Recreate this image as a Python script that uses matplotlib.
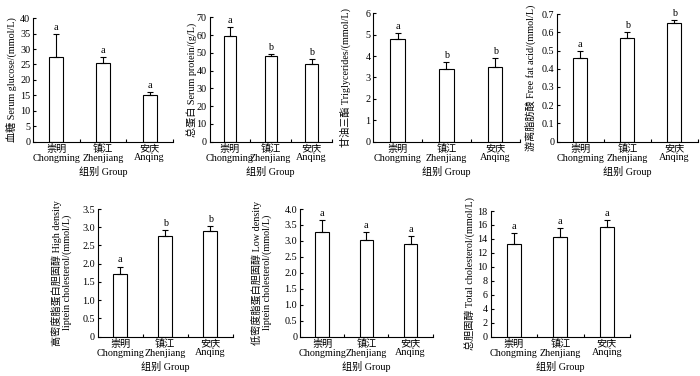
import matplotlib
matplotlib.use('Agg')
import matplotlib.pyplot as plt
from matplotlib.ticker import FixedLocator, FuncFormatter
import numpy as np

plt.rcParams['font.family'] = ['Liberation Serif', 'Noto Sans CJK SC']

groups = ['崇明\nChongming', '镇江\nZhenjiang', '安庆\nAnqing']
xlabel_text = '组别 Group'

glucose_mean = [27.5, 25.5, 15.0]
glucose_err = [7.5, 1.8, 1.1]
glucose_sig = ['a', 'a', 'a']

protein_mean = [59.5, 48.0, 43.8]
protein_err = [4.8, 1.5, 2.7]
protein_sig = ['a', 'b', 'b']

tg_mean = [4.80, 3.40, 3.47]
tg_err = [0.28, 0.30, 0.45]
tg_sig = ['a', 'b', 'b']

ffa_mean = [0.46, 0.57, 0.65]
ffa_err = [0.04, 0.03, 0.02]
ffa_sig = ['a', 'b', 'b']

hdl_mean = [1.72, 2.77, 2.90]
hdl_err = [0.20, 0.15, 0.12]
hdl_sig = ['a', 'b', 'b']

ldl_mean = [3.27, 3.02, 2.89]
ldl_err = [0.37, 0.27, 0.27]
ldl_sig = ['a', 'a', 'a']

tc_mean = [13.3, 14.2, 15.7]
tc_err = [1.6, 1.3, 1.0]
tc_sig = ['a', 'a', 'a']

W, H = 700, 376
fig = plt.figure(figsize=(W / 100, H / 100), dpi=100)

# (left, right, top, bottom) in pixels, ymax, ystep, decimals, ylabel, ylabel right-edge px
panels = [
    (33, 173, 18.3, 141.5, 40, 5, 0, '血糖 Serum glucose/(mmol/L)', 17.5,
     glucose_mean, glucose_err, glucose_sig),
    (209.5, 332, 17.3, 141.5, 70, 10, 0, '总蛋白 Serum protein/(g/L)', 198,
     protein_mean, protein_err, protein_sig),
    (373.3, 519.5, 13.3, 141.5, 6, 1, 0, '甘油三酯 Triglycerides/(mmol/L)', 351,
     tg_mean, tg_err, tg_sig),
    (557, 697.5, 14.3, 141.5, 0.7, 0.1, 1, '游离脂肪酸 Free fat acid/(mmol/L)', 536,
     ffa_mean, ffa_err, ffa_sig),
    (97.7, 232.7, 209, 336.5, 3.5, 0.5, 1,
     '高密度脂蛋白胆固醇 High density\nliptein cholesterol/(mmol/L)', 72,
     hdl_mean, hdl_err, hdl_sig),
    (300, 432.7, 209, 336.5, 4.0, 0.5, 1,
     '低密度脂蛋白胆固醇 Low density\nliptein cholesterol/(mmol/L)', 272,
     ldl_mean, ldl_err, ldl_sig),
    (490.5, 630, 211, 336.5, 18, 2, 0, '总胆固醇 Total cholesterol/(mmol/L)', 476,
     tc_mean, tc_err, tc_sig),
]

x = np.arange(1, len(groups) + 1)
fs = 7.3

for (l, r, t, b, ymax, ystep, dec, ylab, ylab_x, mean, err, sig) in panels:
    ax = fig.add_axes([l / W, 1 - b / H, (r - l) / W, (b - t) / H])
    ax.bar(x, mean, width=0.3, color='white', edgecolor='black', linewidth=0.8, zorder=2)
    ax.errorbar(x, mean, yerr=[np.zeros(len(err)), err], fmt='none', ecolor='black',
                elinewidth=0.8, capsize=2.3, capthick=0.8, zorder=3)
    for xi, m, e, s in zip(x, mean, err, sig):
        ax.annotate(s, (xi, m + e), xytext=(0, 1.5), textcoords='offset points',
                    ha='center', va='bottom', fontsize=fs)
    ax.set_xlim(0.5, 3.5)
    ax.set_ylim(0, ymax)
    ticks = np.round(np.arange(0, ymax + ystep / 2, ystep), 6)
    ax.yaxis.set_major_locator(FixedLocator(ticks))
    ax.yaxis.set_major_formatter(FuncFormatter(
        lambda v, p, d=dec: '0' if abs(v) < 1e-9 else f'{v:.{d}f}'))
    ax.set_xticks(x)
    ax.set_xticklabels(groups, fontsize=fs, linespacing=0.95)
    ax.xaxis.set_minor_locator(FixedLocator([1.5, 2.5, 3.5]))
    ax.tick_params(axis='x', which='major', length=0, pad=2)
    ax.tick_params(axis='x', which='minor', direction='in', length=2, width=0.8)
    ax.tick_params(axis='y', direction='in', length=2, width=0.8, labelsize=fs, pad=2)
    for sp in ['top', 'right']:
        ax.spines[sp].set_visible(False)
    for sp in ['left', 'bottom']:
        ax.spines[sp].set_linewidth(0.8)
    hpx = b - t
    wpx = r - l
    ax.set_xlabel(xlabel_text, fontsize=fs)
    ax.xaxis.set_label_coords(0.5, -(166 - 141.5) / hpx)
    ax.set_ylabel(ylab, fontsize=fs, linespacing=1.0)
    ax.yaxis.set_label_coords((ylab_x - l) / wpx, 0.5)

fig.savefig('out.png', dpi=100)
